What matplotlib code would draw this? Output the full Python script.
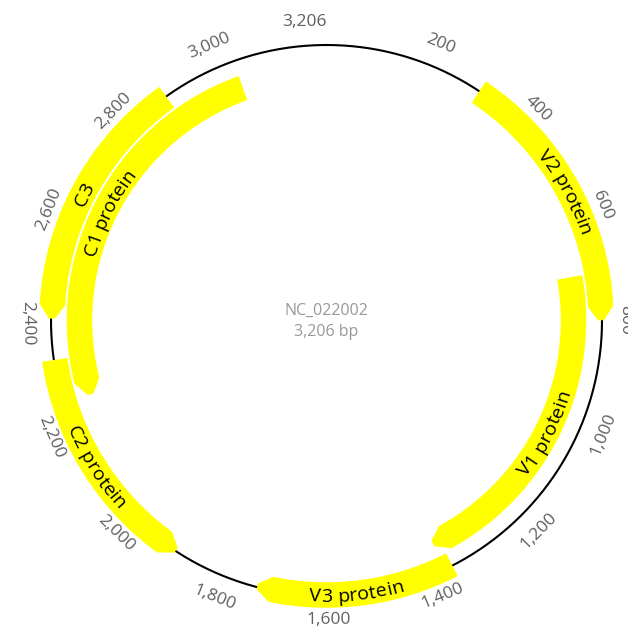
import numpy as np
import matplotlib
matplotlib.use('Agg')
import matplotlib.pyplot as plt
from matplotlib.patches import Polygon
from matplotlib.font_manager import FontProperties

# sequence and features
seq_name = 'NC_022002'
seq_len = 3206
feat_names = ['V2 protein', 'V1 protein', 'V3 protein', 'C2 protein', 'C3', 'C1 protein']
feat_start = [300, 712, 1361, 1899, 2408, 2250]
feat_end = [801, 1376, 1733, 2331, 2889, 3030]
feat_strand = [1, 1, 1, -1, -1, -1]
feat_track = [0, 1, 0, 0, 0, 1]   # 0 = on backbone, 1 = inner row
tick_pos = [200, 400, 600, 800, 1000, 1200, 1400, 1600, 1800, 2000,
            2200, 2400, 2600, 2800, 3000, 3206]

# geometry (pixels)
cx, cy = 326.5, 320.5
R = 275.5
track_r = [274.5, 247.0]
band_w = 25.5
head_len = 14.0
label_r = 299.0

fam = ['Open Sans', 'DejaVu Sans']
fp_feat = FontProperties(family=fam, size=14)
fp_tick = FontProperties(family=fam, size=12.5)
fp_mid = FontProperties(family=fam, size=11.5)


def ang(p):
    return 2 * np.pi * (p % seq_len) / seq_len


def xy(th, r):
    return cx + r * np.sin(th), cy - r * np.cos(th)


def arc(t0, t1, r, n=120):
    t = np.linspace(t0, t1, n)
    return np.column_stack(xy(t, r))


def feature_poly(a, b, strand, r):
    ta, tb = ang(a), ang(b)
    ro, ri = r + band_w / 2, r - band_w / 2
    dh = head_len / r
    if strand > 0:
        outer = arc(ta, tb - dh, ro)
        inner = arc(tb - dh, ta, ri)
        head = np.array([xy(tb, r + 3), xy(tb, r - 3)])
        pts = np.vstack([outer, head, inner])
    else:
        outer = arc(ta + dh, tb, ro)
        inner = arc(tb, ta + dh, ri)
        head = np.array([xy(ta, r - 3), xy(ta, r + 3)])
        pts = np.vstack([outer, inner, head])
    return pts


fig = plt.figure(figsize=(6.28, 6.32), dpi=100)
ax = fig.add_axes([0, 0, 1, 1])
ax.set_xlim(0, 628)
ax.set_ylim(632, 0)
ax.axis('off')
renderer = fig.canvas.get_renderer()


def text_w(s, fp):
    return renderer.get_text_width_height_descent(s, fp, ismath=False)[0]


def arc_text(s, mid, r, fp, color='black'):
    total = text_w(s, fp)
    flip = np.pi / 2 < mid % (2 * np.pi) < 3 * np.pi / 2
    d = -1 if flip else 1
    cap = 0.714 * fp.get_size() * 100 / 72
    rb = r + cap / 2 if flip else r - cap / 2
    for i, ch in enumerate(s):
        if ch == ' ':
            continue
        off = (text_w(s[:i], fp) + text_w(s[:i + 1], fp)) / 2 - total / 2
        th = mid + d * off / r
        rot = 180 - np.degrees(th) if flip else -np.degrees(th)
        x, y = xy(th, rb)
        ax.text(x, y, ch, rotation=rot, rotation_mode='anchor', ha='center',
                va='baseline', fontproperties=fp, color=color)


# backbone
bb = arc(0, 2 * np.pi, R, 400)
ax.plot(bb[:, 0], bb[:, 1], color='black', lw=1.5, zorder=1)

# features
for name, a, b, s, k in zip(feat_names, feat_start, feat_end, feat_strand, feat_track):
    r = track_r[k]
    ax.add_patch(Polygon(feature_poly(a, b, s, r), closed=True, facecolor='#ffff00',
                         edgecolor='none', zorder=2))
    arc_text(name, ang((a + b) / 2), r, fp_feat)

# position labels
for p in tick_pos:
    th = ang(p)
    flip = np.pi / 2 < th < 3 * np.pi / 2
    rot = 180 - np.degrees(th) if flip else -np.degrees(th)
    x, y = xy(th, label_r)
    ax.text(x, y, f'{p:,}', rotation=rot, rotation_mode='anchor',
            ha='right' if p == seq_len else 'center',
            va='center', fontproperties=fp_tick, color='#5f5f5f')

# centre text
ax.text(cx, cy - 10, seq_name, ha='center', va='center', fontproperties=fp_mid, color='#999999')
ax.text(cx, cy + 11, f'{seq_len:,} bp', ha='center', va='center', fontproperties=fp_mid,
        color='#999999')

fig.savefig('out.png', dpi=100)
